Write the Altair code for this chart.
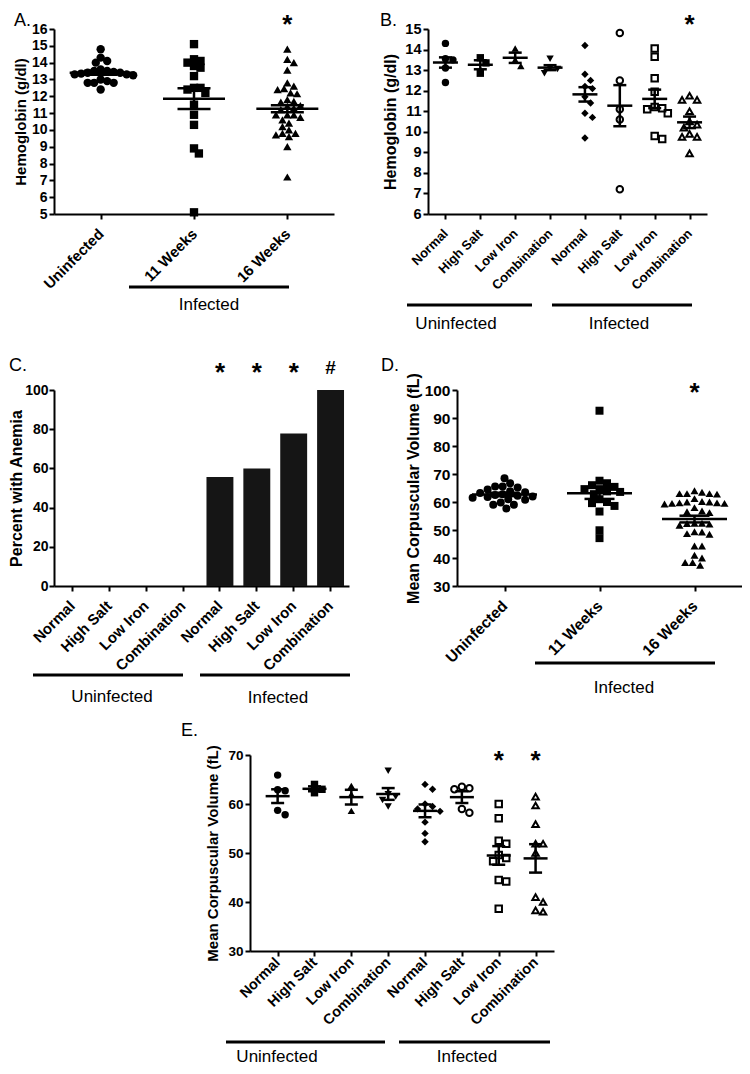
import json
import altair as alt
import pandas as pd

FONT = "Liberation Sans"

# ---------------- Panel A: hemoglobin (g/dl) ----------------
A_categories = ["Uninfected", "11 Weeks", "16 Weeks"]
A_uninfected = [14.8, 14.3, 14.1, 14.0, 13.6, 13.5, 13.5, 13.45, 13.4, 13.4,
                13.35, 13.3, 13.3, 13.25, 13.0, 12.9, 12.8, 12.8, 12.8, 12.4]
A_11_weeks = [15.1, 14.2, 14.1, 14.0, 13.8, 13.7, 13.2, 12.5, 12.5, 12.4,
              12.2, 11.5, 10.9, 10.3, 8.9, 8.6, 5.1]
A_16_weeks = [14.8, 14.2, 14.0, 13.55, 12.8, 12.6, 12.45, 12.4, 12.2, 12.15,
              11.8, 11.7, 11.65, 11.45, 11.4, 11.3, 11.2, 10.9, 10.9, 10.9,
              10.75, 10.6, 10.4, 10.2, 10.0, 9.8, 9.8, 9.7, 9.6, 9.0, 7.2]
A_mean = [13.4, 11.86, 11.26]
A_sem = [0.12, 0.62, 0.21]
A_star_index = [2]
A_star_text = ["*"]

# ---------------- diet groups (B, C, E) ----------------
diet_labels = ["Normal", "High Salt", "Low Iron", "Combination",
               "Normal", "High Salt", "Low Iron", "Combination"]

# Panel B: hemoglobin (g/dl)
B_uninf_normal = [14.3, 13.55, 13.5, 13.1, 12.4]
B_uninf_high_salt = [13.6, 13.35, 12.85]
B_uninf_low_iron = [14.05, 13.5, 13.2]
B_uninf_combination = [13.55, 13.1, 13.05, 12.85]
B_inf_normal = [14.2, 12.8, 12.5, 12.2, 12.1, 11.7, 11.4, 10.9, 10.7, 9.7]
B_inf_high_salt = [14.8, 12.5, 11.1, 10.6, 7.2]
B_inf_low_iron = [14.05, 13.65, 12.6, 11.95, 11.2, 11.15, 11.1, 10.9, 9.8, 9.65]
B_inf_combination = [11.75, 11.55, 11.55, 11.0, 10.5, 10.35, 10.2, 9.9, 9.75, 9.75, 8.95]
B_mean = [13.37, 13.26, 13.6, 13.12, 11.82, 11.27, 11.6, 10.46]
B_sem = [0.25, 0.22, 0.25, 0.12, 0.35, 1.0, 0.45, 0.28]
B_star_index = [7]
B_star_text = ["*"]

# Panel C: percent with anemia
C_percent = [0, 0, 0, 0, 55.6, 60.0, 77.8, 100.0]
C_star_index = [4, 5, 6]
C_star_text = ["*", "*", "*"]
C_hash_index = [7]
C_hash_text = ["#"]

# Panel D: mean corpuscular volume (fL)
D_categories = ["Uninfected", "11 Weeks", "16 Weeks"]
D_uninfected = [68.5, 66.7, 65.5, 65.5, 65.2, 64.5, 63.8, 63.5, 63.2, 62.8, 62.5,
                62.2, 62.0, 61.8, 61.5, 61.0, 60.8, 59.8, 59.0, 59.0, 57.7]
D_11_weeks = [92.6, 67.6, 66.7, 66.0, 65.4, 64.6, 64.6, 63.8, 63.6, 62.8, 61.0,
              60.0, 59.6, 58.6, 56.6, 49.9, 47.1]
D_16_weeks = [64.0, 63.5, 63.0, 63.0, 63.0, 62.8, 61.2, 60.2, 60.0, 60.0, 59.7, 59.7,
              59.5, 59.5, 59.3, 58.0, 56.8, 56.5, 56.2, 52.4, 52.4, 52.3, 52.1, 51.7,
              49.4, 49.3, 48.7, 48.5, 44.3, 44.3, 41.0, 40.0, 38.4, 38.4, 37.4]
D_mean = [62.7, 63.1, 53.9]
D_sem = [0.6, 2.0, 1.2]
D_star_index = [2]
D_star_text = ["*"]

# Panel E: mean corpuscular volume (fL)
E_uninf_normal = [65.9, 62.9, 62.7, 58.7, 57.8]
E_uninf_high_salt = [64.0, 63.0, 62.3]
E_uninf_low_iron = [63.7, 62.0, 58.6]
E_uninf_combination = [66.8, 62.0, 61.5, 60.8, 59.5]
E_inf_normal = [64.0, 63.0, 60.0, 59.5, 59.0, 58.5, 56.3, 54.0, 52.3]
E_inf_high_salt = [63.5, 63.2, 63.0, 59.0, 58.2]
E_inf_low_iron = [60.0, 57.1, 52.5, 51.9, 49.6, 49.0, 48.3, 44.5, 44.2, 38.6]
E_inf_combination = [61.5, 59.7, 55.9, 51.9, 51.9, 50.0, 41.0, 40.0, 38.3, 38.0]
E_mean = [61.6, 63.1, 61.4, 62.05, 58.6, 61.4, 49.5, 48.9]
E_sem = [1.4, 0.5, 1.5, 1.2, 1.3, 1.2, 1.9, 2.9]
E_star_index = [6, 7]
E_star_text = ["*", "*"]

# marker styles
TIME_SHAPES = ["circle", "square", "triangle-up"]
TIME_OPEN = [False, False, False]
DIET_SHAPES = ["circle", "square", "triangle-up", "triangle-down",
               "diamond", "circle", "square", "triangle-up"]
DIET_OPEN = [False, False, False, False, False, True, True, True]


def swarm(values, px_per_unit, diam):
    """Beeswarm layout: horizontal pixel offset for each value."""
    placed = []
    offs = [0.0] * len(values)
    order = sorted(range(len(values)), key=lambda i: -values[i])
    step = diam / 4.0
    cands = [0.0]
    for k in range(1, 200):
        cands += [k * step, -k * step]
    for i in order:
        y = values[i] * px_per_unit
        for cx in cands:
            if all((cx - px) ** 2 + (y - py) ** 2 >= diam ** 2 for px, py in placed):
                break
        placed.append((cx, y))
        offs[i] = cx
    return offs


def x_axis(labels, fs, pad):
    return alt.Axis(values=list(range(len(labels))),
                    labelExpr=json.dumps(labels) + "[datum.value]",
                    labelAngle=-45, labelAlign="right", labelBaseline="middle",
                    labelPadding=pad, labelFont=FONT, labelFontSize=fs,
                    labelFontWeight="bold", labelColor="black",
                    labelOverlap=False, labelFlush=False, labelBound=False,
                    title=None, grid=False, domainColor="black", domainWidth=2,
                    tickColor="black", tickWidth=2, tickSize=5)


def y_axis(title, ticks, fs, tfs, tpad, lpad=2):
    return alt.Axis(values=ticks, title=title, titleFont=FONT, titleFontSize=tfs,
                    titleFontWeight="bold", titleColor="black", titlePadding=tpad,
                    labelFont=FONT, labelFontSize=fs, labelFontWeight="bold",
                    labelColor="black", labelPadding=lpad, labelFlush=False,
                    labelOverlap=False, grid=False, domainColor="black",
                    domainWidth=2, tickColor="black", tickWidth=2, tickSize=5)


def one():
    return alt.Data(values=[{}])


def decorations(groups, letter, letter_xy, marks, xenc_fn, star_y):
    layers = []
    for (x1, x2, ly, text, tx, ty) in groups:
        layers.append(alt.Chart(one()).mark_rule(color="black", strokeWidth=3).encode(
            x=alt.value(x1), x2=alt.value(x2), y=alt.value(ly)))
        layers.append(alt.Chart(one()).mark_text(
            text=text, font=FONT, fontSize=17, color="black", align="center",
            baseline="alphabetic").encode(x=alt.value(tx), y=alt.value(ty)))
    layers.append(alt.Chart(one()).mark_text(
        text=letter, font=FONT, fontSize=18, color="black", align="left",
        baseline="top").encode(x=alt.value(letter_xy[0]), y=alt.value(letter_xy[1])))
    for (idx, txt, fsz, dy) in marks:
        layers.append(alt.Chart(pd.DataFrame({"x": idx, "t": txt})).mark_text(
            font=FONT, fontSize=fsz, fontWeight="bold", color="black",
            baseline="middle", dy=dy).encode(x=xenc_fn("x"), y=alt.value(star_y), text="t:N"))
    return layers


def dot_panel(series, cats, means, sems, shapes, opens, xdom, ydom, yticks, w, h,
              ytitle, diam, size, osize, mean_w, cap_w, fs, star_idx, star_txt,
              star_y, groups, letter, letter_xy, star_fs=26):
    pxx = w / (xdom[1] - xdom[0])
    pxy = h / (ydom[1] - ydom[0])
    rows = []
    for gi, vals in enumerate(series):
        offs = swarm(vals, pxy, diam)
        for v, o in zip(vals, offs):
            rows.append({"x": gi + o / pxx, "y": v, "shape": shapes[gi], "open": opens[gi]})
    pts = pd.DataFrame(rows)
    summ = pd.DataFrame({"x": list(range(len(cats))), "mean": means, "sem": sems})

    xs = alt.Scale(domain=xdom, nice=False, zero=False)
    ys = alt.Scale(domain=ydom, nice=False, zero=False)
    xa = x_axis(cats, fs["xlab"], fs["xpad"])
    ya = y_axis(ytitle, yticks, fs["ylab"], fs["title"], fs["tpad"])

    def X(f):
        return alt.X(f + ":Q", scale=xs, axis=xa)

    def Y(f):
        return alt.Y(f + ":Q", scale=ys, axis=ya)

    layers = []
    filled = pts[~pts["open"]]
    opened = pts[pts["open"]]
    if len(filled):
        layers.append(alt.Chart(filled).mark_point(
            filled=True, color="black", opacity=1, size=size).encode(
            x=X("x"), y=Y("y"), shape=alt.Shape("shape:N", scale=None)))
    if len(opened):
        layers.append(alt.Chart(opened).mark_point(
            filled=False, color="black", opacity=1, size=osize, strokeWidth=2).encode(
            x=X("x"), y=Y("y"), shape=alt.Shape("shape:N", scale=None)))
    sb = alt.Chart(summ).transform_calculate(
        lo="datum.mean - datum.sem", hi="datum.mean + datum.sem")
    layers.append(sb.mark_rule(color="black", strokeWidth=2.5).encode(
        x=X("x"), y=Y("lo"), y2="hi:Q"))
    layers.append(sb.mark_tick(orient="horizontal", color="black", size=mean_w,
                               thickness=2.5, opacity=1).encode(x=X("x"), y=Y("mean")))
    layers.append(sb.mark_tick(orient="horizontal", color="black", size=cap_w,
                               thickness=2.5, opacity=1).encode(x=X("x"), y=Y("lo")))
    layers.append(sb.mark_tick(orient="horizontal", color="black", size=cap_w,
                               thickness=2.5, opacity=1).encode(x=X("x"), y=Y("hi")))
    layers += decorations(groups, letter, letter_xy, [(star_idx, star_txt, star_fs, 5)],
                          X, star_y)
    return layers


# ---------------- build panels ----------------
panelA = alt.layer(*dot_panel(
    [A_uninfected, A_11_weeks, A_16_weeks], A_categories, A_mean, A_sem,
    TIME_SHAPES, TIME_OPEN, [-0.5, 2.5], [5, 16], list(range(5, 17)), 280, 185,
    "Hemoglobin (g/dl)", 6.5, 70, 60, 62, 33,
    {"xlab": 15, "xpad": 12, "ylab": 14, "title": 15, "tpad": 3},
    A_star_index, A_star_text, -9,
    [(75, 235, 258, "Infected", 155, 281)], "A.", (-40, -17))).properties(width=280, height=185)

panelB = alt.layer(*dot_panel(
    [B_uninf_normal, B_uninf_high_salt, B_uninf_low_iron, B_uninf_combination,
     B_inf_normal, B_inf_high_salt, B_inf_low_iron, B_inf_combination],
    diet_labels, B_mean, B_sem, DIET_SHAPES, DIET_OPEN, [-0.5, 7.5], [6, 15],
    list(range(6, 16)), 279, 185, "Hemoglobin (g/dl)", 7.5, 55, 42, 25, 13,
    {"xlab": 13, "xpad": 12, "ylab": 14.5, "title": 16, "tpad": 6},
    B_star_index, B_star_text, -9,
    [(-21, 104, 276, "Uninfected", 28, 300), (124, 264, 276, "Infected", 191, 300)],
    "B.", (-48, -17))).properties(width=279, height=185)

# Panel C (bars)
C_df = pd.DataFrame({"idx": list(range(8)), "pct": C_percent})
c_xs = alt.Scale(domain=list(range(8)), paddingInner=0.27, paddingOuter=0.135)
c_xa = x_axis(diet_labels, 15, 12)
c_ys = alt.Scale(domain=[0, 100], nice=False)
c_ya = y_axis("Percent with Anemia", [0, 20, 40, 60, 80, 100], 14, 16, 0, lpad=1)


def CX(f):
    return alt.X(f + ":O", scale=c_xs, axis=c_xa)


C_layers = [alt.Chart(C_df).mark_bar(color="#151515").encode(
    x=CX("idx"), y=alt.Y("pct:Q", scale=c_ys, axis=c_ya))]
C_layers += decorations(
    [(-21, 129, 285, "Uninfected", 58, 312), (146, 296, 285, "Infected", 224, 313)],
    "C.", (-45, -33),
    [(C_star_index, C_star_text, 26, 5), (C_hash_index, C_hash_text, 19, 0)], CX, -22)
panelC = alt.layer(*C_layers).properties(width=295, height=196)

panelD = alt.layer(*dot_panel(
    [D_uninfected, D_11_weeks, D_16_weeks], D_categories, D_mean, D_sem,
    TIME_SHAPES, TIME_OPEN, [-0.5, 2.5], [30, 100], list(range(30, 101, 10)), 285, 196,
    "Mean Corpuscular Volume (fL)", 7.5, 64, 55, 65, 30,
    {"xlab": 15.5, "xpad": 12, "ylab": 15.5, "title": 16, "tpad": 3},
    D_star_index, D_star_text, -2,
    [(78, 258, 273, "Infected", 167, 303)], "D.", (-76, -33))).properties(width=285, height=196)

panelE = alt.layer(*dot_panel(
    [E_uninf_normal, E_uninf_high_salt, E_uninf_low_iron, E_uninf_combination,
     E_inf_normal, E_inf_high_salt, E_inf_low_iron, E_inf_combination],
    diet_labels, E_mean, E_sem, DIET_SHAPES, DIET_OPEN, [-0.75, 7.5], [30, 70],
    list(range(30, 71, 10)), 304, 196, "Mean Corpuscular Volume (fL)", 7.5, 55, 42, 24, 13,
    {"xlab": 14.5, "xpad": 4, "ylab": 13.5, "title": 15, "tpad": 7},
    E_star_index, E_star_text, 1,
    [(-24, 135, 287, "Uninfected", 27, 307), (149, 300, 287, "Infected", 217, 307)],
    "E.", (-69, -33))).properties(width=304, height=196)

# empty left cell that pushes the bottom panel towards the middle
spacer = alt.Chart(one()).mark_point(opacity=0).encode(
    x=alt.value(60), y=alt.value(5)).properties(width=127, height=10)

row1 = alt.hconcat(panelA, panelB, spacing=46)
row2 = alt.hconcat(panelC, panelD, spacing=29)
row3 = alt.hconcat(spacer, panelE, spacing=0)
top = alt.vconcat(row1, row2, spacing=25)
chart = alt.vconcat(top, row3, spacing=16).properties(
    padding={"top": 4, "bottom": 0, "left": 0, "right": 0},
    background="white").configure_view(stroke=None)

chart.save("out.html", embed_options={"renderer": "svg", "actions": False})
